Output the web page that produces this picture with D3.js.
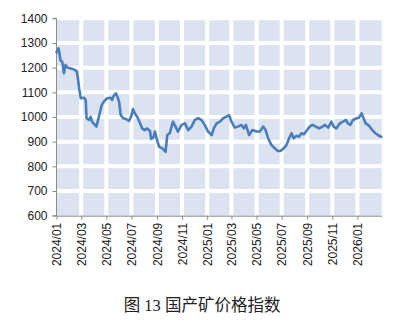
<!DOCTYPE html>
<html>
<head>
<meta charset="utf-8">
<script src="https://cdn.jsdelivr.net/npm/d3@7"></script>
<style>
  html, body { margin: 0; padding: 0; background: #fff; }
  svg { display: block; }
</style>
</head>
<body>
<svg id="chart" width="397" height="323"></svg>
<script>
// ---- data ----
const dates = [
  "2024-01-01","2024-01-06","2024-01-11","2024-01-15","2024-01-19","2024-01-23","2024-01-27",
  "2024-02-04","2024-02-12","2024-02-19","2024-02-22","2024-02-25","2024-02-29",
  "2024-03-08","2024-03-12","2024-03-14","2024-03-20","2024-03-24","2024-03-28",
  "2024-04-03","2024-04-07","2024-04-11","2024-04-15","2024-04-20","2024-04-25",
  "2024-05-03","2024-05-11","2024-05-15","2024-05-19","2024-05-24","2024-05-28",
  "2024-06-01","2024-06-05","2024-06-11","2024-06-17","2024-06-25","2024-06-30",
  "2024-07-05","2024-07-09","2024-07-15","2024-07-22","2024-07-27",
  "2024-08-02","2024-08-08","2024-08-15","2024-08-18","2024-08-23","2024-08-27",
  "2024-09-02","2024-09-06","2024-09-14","2024-09-22","2024-09-26",
  "2024-10-02","2024-10-10","2024-10-14","2024-10-22","2024-10-31",
  "2024-11-08","2024-11-16","2024-11-24",
  "2024-12-02","2024-12-10","2024-12-18","2024-12-26",
  "2025-01-03","2025-01-12","2025-01-17","2025-01-24",
  "2025-02-01","2025-02-09","2025-02-17","2025-02-23",
  "2025-03-01","2025-03-09","2025-03-17","2025-03-25","2025-03-31",
  "2025-04-05","2025-04-13","2025-04-21",
  "2025-05-01","2025-05-09","2025-05-17","2025-05-23","2025-05-29",
  "2025-06-06","2025-06-14","2025-06-22","2025-06-28",
  "2025-07-06","2025-07-13","2025-07-19","2025-07-25","2025-07-30",
  "2025-08-06","2025-08-12","2025-08-18","2025-08-24","2025-08-30",
  "2025-09-07","2025-09-14","2025-09-22","2025-09-30",
  "2025-10-08","2025-10-14","2025-10-22","2025-10-30",
  "2025-11-04","2025-11-11","2025-11-19","2025-11-27",
  "2025-12-04","2025-12-09","2025-12-15","2025-12-21","2025-12-30",
  "2026-01-05","2026-01-11","2026-01-16","2026-01-21","2026-01-29",
  "2026-02-06","2026-02-14","2026-02-22","2026-02-28"
];
const values = [
  1262,1278,1228,1224,1177,1211,1201,
  1197,1193,1186,1157,1116,1076,
  1078,1069,995,988,1001,979,
  968,961,988,1015,1049,1062,
  1076,1078,1069,1086,1096,1082,
  1062,1008,995,992,984,1001,
  1032,1015,1001,975,954,
  947,954,943,911,916,941,
  903,880,873,859,927,
  934,981,968,941,968,
  974,947,961,
  988,995,988,968,
  941,927,954,974,
  981,995,1001,1008,
  981,957,961,968,954,
  968,927,947,
  941,941,961,947,914,
  887,873,862,862,
  873,887,914,934,914,
  924,920,934,930,943,
  961,968,961,954,
  961,968,957,981,
  961,954,974,981,
  988,974,968,988,995,
  997,1015,995,974,965,
  947,934,924,920
];
const yTicks = [600,700,800,900,1000,1100,1200,1300,1400];
const xTickLabels = ["2024/01","2024/03","2024/05","2024/07","2024/09","2024/11",
                     "2025/01","2025/03","2025/05","2025/07","2025/09","2025/11","2026/01"];
const title = "图 13 国产矿价格指数";

// ---- layout ----
const svg = d3.select("#chart");
const pL = 56.5, pR = 381.7, pT = 18.3, pB = 215.7;
const parse = d3.timeParse("%Y-%m-%d");
const parseTick = d3.timeParse("%Y/%m");
const data = dates.map((d, i) => ({ date: parse(d), value: values[i] }));

const x = d3.scaleTime()
  .domain([parse("2024-01-01"), parse("2026-03-01")])
  .range([pL, pR]);
const y = d3.scaleLinear().domain([600, 1400]).range([pB, pT]);

const tickDates = xTickLabels.map(parseTick);

// plot background
svg.append("rect")
  .attr("x", pL).attr("y", pT)
  .attr("width", pR - pL).attr("height", pB - pT)
  .attr("fill", "#dbe3f0");

// white grid lines
const grid = svg.append("g");
grid.selectAll("line.h").data(yTicks.filter(v => v > 600)).join("line")
  .attr("x1", pL).attr("x2", pR)
  .attr("y1", d => y(d)).attr("y2", d => y(d))
  .attr("stroke", "#fff").attr("stroke-width", 4);
grid.selectAll("line.v").data(tickDates.slice(1)).join("line")
  .attr("x1", d => x(d)).attr("x2", d => x(d))
  .attr("y1", pT).attr("y2", pB)
  .attr("stroke", "#fff").attr("stroke-width", 4);

// axes
const yAxis = d3.axisLeft(y).tickValues(yTicks).tickSize(4).tickPadding(5).tickFormat(d3.format("d"));
const gy = svg.append("g").attr("transform", `translate(${pL},0)`).call(yAxis);
gy.select(".domain").attr("stroke", "#8c8c8c").attr("d", `M-4,${pT}H0V${pB}H-4`);
gy.selectAll(".tick line").attr("stroke", "#8c8c8c");
gy.selectAll(".tick text").attr("fill", "#222")
  .style("font-family", "'Liberation Sans', Arial, sans-serif").style("font-size", "12px");

const xAxis = d3.axisBottom(x).tickValues(tickDates).tickSize(4).tickSizeOuter(0)
  .tickFormat(d3.timeFormat("%Y/%m"));
const gx = svg.append("g").attr("transform", `translate(0,${pB})`).call(xAxis);
gx.select(".domain").attr("stroke", "#8c8c8c");
gx.selectAll(".tick line").attr("stroke", "#8c8c8c");
gx.selectAll(".tick text")
  .attr("fill", "#222")
  .style("font-family", "'Liberation Sans', Arial, sans-serif").style("font-size", "12px")
  .attr("transform", "rotate(-90)")
  .attr("text-anchor", "end")
  .attr("x", -7).attr("y", 0).attr("dy", "0.35em");

// line
const line = d3.line().x(d => x(d.date)).y(d => y(d.value));
svg.append("path").datum(data)
  .attr("d", line)
  .attr("fill", "none")
  .attr("stroke", "#4a7ebb")
  .attr("stroke-width", 2.6)
  .attr("stroke-linejoin", "round")
  .attr("stroke-linecap", "round");

// title
svg.append("text")
  .attr("x", 202).attr("y", 311)
  .attr("text-anchor", "middle")
  .attr("fill", "#222")
  .style("font-family", "'Liberation Serif', 'Noto Sans CJK SC', serif")
  .style("font-size", "16.5px")
  .text(title);
</script>
</body>
</html>
